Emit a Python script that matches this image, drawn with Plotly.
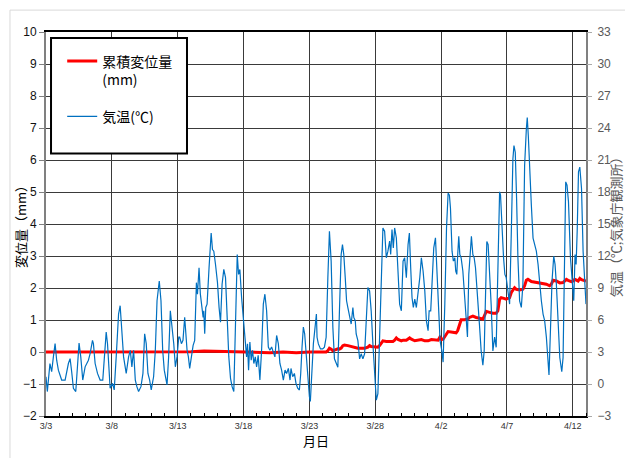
import pandas as pd
import plotly.graph_objects as go

# ---- data (days after 3/3) ----
base_date = "2021-03-03"

disp_days = [0, 2, 4, 6, 8, 10, 11, 12, 13, 14, 15, 16, 17, 18, 19, 20, 20.38, 21.27, 21.4, 21.52,
             21.65, 21.78, 21.9, 22.03, 22.16, 22.28, 22.41, 22.54, 22.66, 22.92, 23.17, 23.43, 23.68,
             23.93, 24.19, 24.44, 24.57, 24.69, 24.95, 25.2, 25.33, 25.46, 25.58, 25.84, 26.09, 26.34,
             26.47, 26.6, 26.73, 26.98, 27.11, 27.36, 27.61, 27.74, 28.0, 28.25, 28.5, 28.76, 29.01,
             29.26, 29.52, 29.77, 29.9, 30.03, 30.15, 30.28, 30.41, 30.53, 30.88, 31.14, 31.26, 31.39,
             31.52, 31.77, 32.03, 32.15, 32.41, 32.66, 32.91, 33.17, 33.3, 33.42, 33.68, 33.93, 34.18,
             34.31, 34.44, 34.56, 34.82, 34.94, 35.07, 35.2, 35.33, 35.58, 35.71, 35.96, 36.21, 36.34,
             36.47, 36.59, 36.85, 37.23, 37.61, 37.99, 38.24, 38.37, 38.5, 38.75, 39.01, 39.26, 39.39,
             39.51, 39.64, 39.89, 40.02, 40.15, 40.4, 40.53, 40.66, 40.91, 41.0]
disp_mm = [0, 0, 0.01, 0, 0.01, 0, 0.01, 0.03, 0.02, 0.01, 0.02, 0, -0.02, 0, -0.02, 0, 0, 0, 0.04, 0.12,
           0.09, 0.04, 0.06, 0.09, 0.1, 0.09, 0.12, 0.2, 0.22, 0.2, 0.17, 0.15, 0.12,
           0.12, 0.12, 0.15, 0.2, 0.17, 0.17, 0.15, 0.2, 0.3, 0.35, 0.33, 0.33, 0.33,
           0.37, 0.44, 0.39, 0.35, 0.37, 0.37, 0.44, 0.4, 0.35, 0.37, 0.39, 0.35, 0.35,
           0.39, 0.37, 0.37, 0.46, 0.39, 0.4, 0.48, 0.56, 0.64, 0.62, 0.6, 0.67, 0.88,
           1.01, 1.01, 1.03, 1.08, 1.12, 1.08, 1.06, 1.03, 1.14, 1.27, 1.24, 1.21, 1.21,
           1.29, 1.65, 1.7, 1.67, 1.65, 1.68, 1.7, 1.86, 2.01, 1.96, 1.94, 1.96, 2.07,
           2.24, 2.27, 2.2, 2.17, 2.15, 2.12, 2.07, 2.12, 2.24, 2.22, 2.16, 2.17, 2.22,
           2.27, 2.24, 2.2, 2.22, 2.27, 2.22, 2.3, 2.26, 2.22, 2.22]

temp_days = [0, 0.1, 0.3, 0.43, 0.56, 0.69, 0.81, 0.94, 1.19, 1.45, 1.7, 1.83, 1.95, 2.08, 2.26, 2.41,
             2.51, 2.64, 2.79, 2.97, 3.22, 3.35, 3.53, 3.6, 3.73, 3.91, 4.11, 4.31, 4.44, 4.57, 4.67,
             4.77, 4.87, 5.05, 5.18, 5.33, 5.51, 5.63, 5.76, 5.89, 6.09, 6.27, 6.4, 6.52, 6.65, 6.78,
             6.9, 7.03, 7.21, 7.36, 7.49, 7.61, 7.74, 7.87, 7.99, 8.17, 8.3, 8.43, 8.6, 8.73, 8.86,
             8.98, 9.19, 9.31, 9.44, 9.57, 9.7, 9.82, 9.95, 10.08, 10.15, 10.28, 10.4, 10.53, 10.61,
             10.71, 10.81, 10.91, 11.04, 11.17, 11.29, 11.42, 11.5, 11.62, 11.72, 11.85, 11.93, 11.98,
             12.05, 12.13, 12.23, 12.38, 12.54, 12.64, 12.74, 12.87, 13.02, 13.14, 13.25, 13.37, 13.5,
             13.63, 13.75, 13.88, 14.01, 14.13, 14.26, 14.39, 14.52, 14.62, 14.72, 14.85, 14.97, 15.1,
             15.23, 15.3, 15.38, 15.48, 15.58, 15.68, 15.78, 15.89, 15.99, 16.11, 16.24, 16.37, 16.5,
             16.62, 16.75, 16.88, 17.0, 17.13, 17.26, 17.38, 17.51, 17.64, 17.76, 17.89, 18.02, 18.15,
             18.27, 18.4, 18.53, 18.6, 18.73, 18.86, 18.98, 19.11, 19.24, 19.34, 19.44, 19.54, 19.64,
             19.74, 19.85, 20.0, 20.07, 20.18, 20.3, 20.43, 20.53, 20.58, 20.68, 20.84, 21.01, 21.14,
             21.27, 21.4, 21.52, 21.65, 21.78, 21.9, 22.03, 22.16, 22.28, 22.41, 22.51, 22.61, 22.72,
             22.82, 22.92, 23.05, 23.17, 23.3, 23.37, 23.48, 23.55, 23.68, 23.81, 23.93, 24.06, 24.19,
             24.31, 24.44, 24.57, 24.69, 24.82, 24.95, 25.08, 25.2, 25.33, 25.46, 25.58, 25.71, 25.84,
             25.96, 26.09, 26.17, 26.27, 26.37, 26.47, 26.6, 26.73, 26.85, 26.98, 27.11, 27.23, 27.36,
             27.49, 27.59, 27.69, 27.79, 27.89, 28.0, 28.12, 28.25, 28.38, 28.5, 28.63, 28.76, 28.88,
             29.01, 29.09, 29.21, 29.31, 29.44, 29.57, 29.69, 29.82, 29.92, 30.05, 30.15, 30.28, 30.41,
             30.53, 30.63, 30.71, 30.78, 30.83, 30.93, 31.04, 31.11, 31.19, 31.26, 31.34, 31.42, 31.52,
             31.65, 31.77, 31.9, 32.0, 32.1, 32.2, 32.3, 32.41, 32.51, 32.61, 32.71, 32.81, 32.91,
             33.04, 33.17, 33.27, 33.37, 33.47, 33.57, 33.68, 33.8, 33.93, 34.06, 34.18, 34.31, 34.44,
             34.51, 34.61, 34.74, 34.84, 34.94, 35.07, 35.2, 35.33, 35.45, 35.53, 35.63, 35.73, 35.83,
             35.96, 36.09, 36.21, 36.34, 36.47, 36.54, 36.62, 36.72, 36.85, 36.98, 37.1, 37.23, 37.36,
             37.48, 37.61, 37.74, 37.86, 37.99, 38.12, 38.19, 38.3, 38.42, 38.55, 38.65, 38.75, 38.88,
             39.01, 39.16, 39.26, 39.36, 39.46, 39.56, 39.67, 39.82, 39.94, 40.07, 40.17, 40.25, 40.33,
             40.43, 40.53, 40.66, 40.78, 40.91, 41.0]
temp_c = [0.68, -0.71, 1.92, 1.15, 2.54, 3.78, 2.23, 1.3, 0.37, 0.37, 1.92, 2.38, 1.15, -0.4, -0.71, 2.54,
          3.84, 2.54, 0.37, 1.61, 2.23, 2.85, 4.09, 3.78, 1.92, 0.99, 0.37, 0.37, 3.16, 4.86, 3.78,
          1.3, -0.4, 0.06, -0.56, 2.54, 6.56, 7.34, 5.33, 2.54, 0.99, 2.54, 3.16, 1.61, 3.16, 0.37,
          -0.25, -0.71, -0.25, 0.99, 4.71, 3.78, 0.99, 0.37, -0.56, 0.68, 3.16, 7.8, 9.66, 7.8, 3.16,
          1.3, -0.09, 2.54, 6.87, 5.33, 3.78, 1.61, 2.54, 4.4, 4.4, 3.78, 4.09, 6.25, 5.02,
          3.16, 2.54, 1.46, 2.54, 3.62, 4.09, 9.5, 8.42, 10.9, 8.42, 6.72, 6.25, 6.87,
          4.71, 7.18, 7.49, 10.9, 14.15, 12.6, 12.45, 11.2, 9.5, 7.18, 5.79, 9.35, 10.74,
          9.97, 6.56, 2.54, 0.53, -0.25, -0.71, 6.25, 12.14, 10.28, 10.74, 8.11, 6.25, 5.02,
          2.54, 3.78, 1.3, 3.93, 2.23, 3.16, 1.92, 2.54, 1.61, 2.69, 0.37, 3.16, 7.49,
          8.42, 6.87, 3.47, 3.16, 3.47, 2.85, 2.54, 4.55, 3.78, 1.92, 1.3, 0.37, 1.3,
          0.99, 1.46, 0.37, 1.46, 0.68, 0.99, 0.06, -0.4, -0.56, 0.99, 3.47, 5.33, 4.71,
          3.16, 0.68, -1.18, -1.64, 1.61, 3.78, 5.33, 6.56, 4.38, 3.76, 3.29, 3.29, 3.45,
          4.38, 9.97, 14.32, 11.52, 5.31, 2.36, 1.89, 1.58, 6.86, 12.14, 13.07, 12.14, 9.97,
          7.8, 7.17, 6.24, 5.62, 7.17, 6.24, 5.93, 4.69, 4.07, 2.36, 2.83, 2.36, 2.83,
          5.62, 9.04, 8.73, 6.86, 3.76, 0.65, -1.52, -0.9, 3.76, 9.97, 14.63, 14.32, 11.83,
          12.45, 13.39, 12.14, 14.47, 12.76, 14.63, 13.7, 10.59, 7.48, 6.86, 11.52, 11.83, 9.97,
          13.07, 14.16, 10.9, 8.11, 7.17, 7.95, 7.17, 8.42, 9.97, 11.83, 10.59, 8.73, 5.93,
          5.0, 6.86, 6.86, 9.97, 12.76, 13.7, 9.97, 5.93, 4.07, 3.14, 2.05, 7.48, 14.63,
          17.89, 17.71, 16.47, 13.68, 12.45, 11.52, 11.83, 10.59, 10.28, 12.14, 13.84, 12.14, 11.83,
          10.59, 8.11, 6.25, 4.4, 10.28, 11.83, 13.84, 12.14, 11.83, 10.9, 9.35, 7.43, 5.57,
          3.1, 1.76, 3.1, 9.35, 13.37, 13.07, 10.59, 7.43, 3.1, 4.4, 3.44, 11.21, 18.02,
          17.71, 14.92, 11.83, 10.28, 9.97, 8.73, 7.49, 14.3, 21.11, 22.35, 21.73, 17.4, 11.83,
          7.8, 7.18, 9.35, 20.5, 23.9, 24.98, 23.28, 19.88, 16.78, 13.68, 13.07, 12.45, 11.21,
          9.35, 7.8, 6.56, 5.94, 4.4, 2.48, 0.84, 5.02, 9.66, 11.98, 11.21, 9.35, 6.25,
          2.48, 1.15, 2.48, 10.59, 18.95, 18.64, 17.09, 11.83, 9.35, 7.8, 12.14, 11.21, 14.3,
          19.88, 20.34, 18.33, 12.45, 9.04, 7.49]

disp_name = "累積変位量<br>(mm)"
temp_name = "気温(℃)"
x_title = "月日"
y_title = "変位量（mm）"
y2_title = "気温（℃;気象庁観測所）"

t0 = pd.Timestamp(base_date)
disp_x = t0 + pd.to_timedelta(pd.Series(disp_days) * 24, unit="h")
temp_x = t0 + pd.to_timedelta(pd.Series(temp_days) * 24, unit="h")

FONT = "Liberation Sans, Arial, Noto Sans CJK JP, sans-serif"
JFONT = "Noto Sans CJK JP, sans-serif"

fig = go.Figure()
fig.add_trace(go.Scatter(x=disp_x, y=disp_mm, mode="lines", name=disp_name,
                         line=dict(color="#FF0000", width=3), legendgroup="a"))
fig.add_trace(go.Scatter(x=temp_x, y=temp_c, mode="lines", name=temp_name, yaxis="y2",
                         line=dict(color="#0070C0", width=1.2), legendgroup="b"))

fig.update_layout(
    width=625, height=458,
    margin=dict(l=46, r=39, t=32, b=40),
    paper_bgcolor="white", plot_bgcolor="white",
    font=dict(family=FONT, color="#000"),
    showlegend=True,
    legend=dict(x=0.03, y=0.965, xanchor="left", yanchor="top",
                bgcolor="rgba(0,0,0,0)", borderwidth=0,
                font=dict(family=JFONT, size=14, color="#000"),
                valign="top", tracegroupgap=16, itemwidth=30),
    xaxis=dict(type="date",
               range=[t0, t0 + pd.Timedelta(days=41)],
               tick0=t0, dtick=5 * 86400000, tickformat="%-m/%-d",
               showgrid=True, gridcolor="#3a3a3a", gridwidth=1,
               ticks="", showline=True, linecolor="#000", linewidth=2, mirror=True,
               minor=dict(dtick=86400000, ticks="inside", ticklen=3, tickcolor="#000",
                          tickwidth=1, showgrid=False),
               tickfont=dict(size=9, color="#333"),
               title=dict(text=x_title, font=dict(family=JFONT, size=13, color="#000"), standoff=6),
               zeroline=False),
    yaxis=dict(range=[-2, 10], dtick=1, tick0=0,
               showgrid=True, gridcolor="#3a3a3a", gridwidth=1,
               showline=True, linecolor="#808080", linewidth=2, mirror=True,
               ticks="outside", ticklen=5, tickcolor="#808080",
               tickfont=dict(size=12, color="#111"),
               zeroline=False),
    yaxis2=dict(range=[-3, 33], dtick=3, tick0=0, overlaying="y", side="right",
                showgrid=False, zeroline=False, showline=False,
                ticks="outside", ticklen=5, tickcolor="#aaaaaa", ticklabelstandoff=3,
                tickfont=dict(size=12, color="#595959")),
    annotations=[
        dict(text=y_title, xref="paper", yref="paper", x=-0.048, y=0.5, textangle=-90,
             showarrow=False, xanchor="center", yanchor="middle",
             font=dict(family=JFONT, size=13, color="#000")),
        dict(text=y2_title, xref="paper", yref="paper", x=1.054, y=0.5, textangle=-90,
             showarrow=False, xanchor="center", yanchor="middle",
             font=dict(family=JFONT, size=13, color="#595959")),
    ],
    shapes=[
        dict(type="rect", xref="paper", yref="paper", x0=-0.0667, x1=1.2, y0=-0.3, y1=1.057,
             line=dict(color="#d9d9d9", width=1), fillcolor="rgba(0,0,0,0)", layer="below"),
        dict(type="rect", xref="paper", yref="paper", x0=0.0093, x1=0.2611, y0=0.6839, y1=0.9845,
             line=dict(color="#000", width=2), fillcolor="white", layer="above"),
    ],
)

fig.write_html("out.html", config={"displayModeBar": False},
               post_script="document.body.style.margin='0';")
